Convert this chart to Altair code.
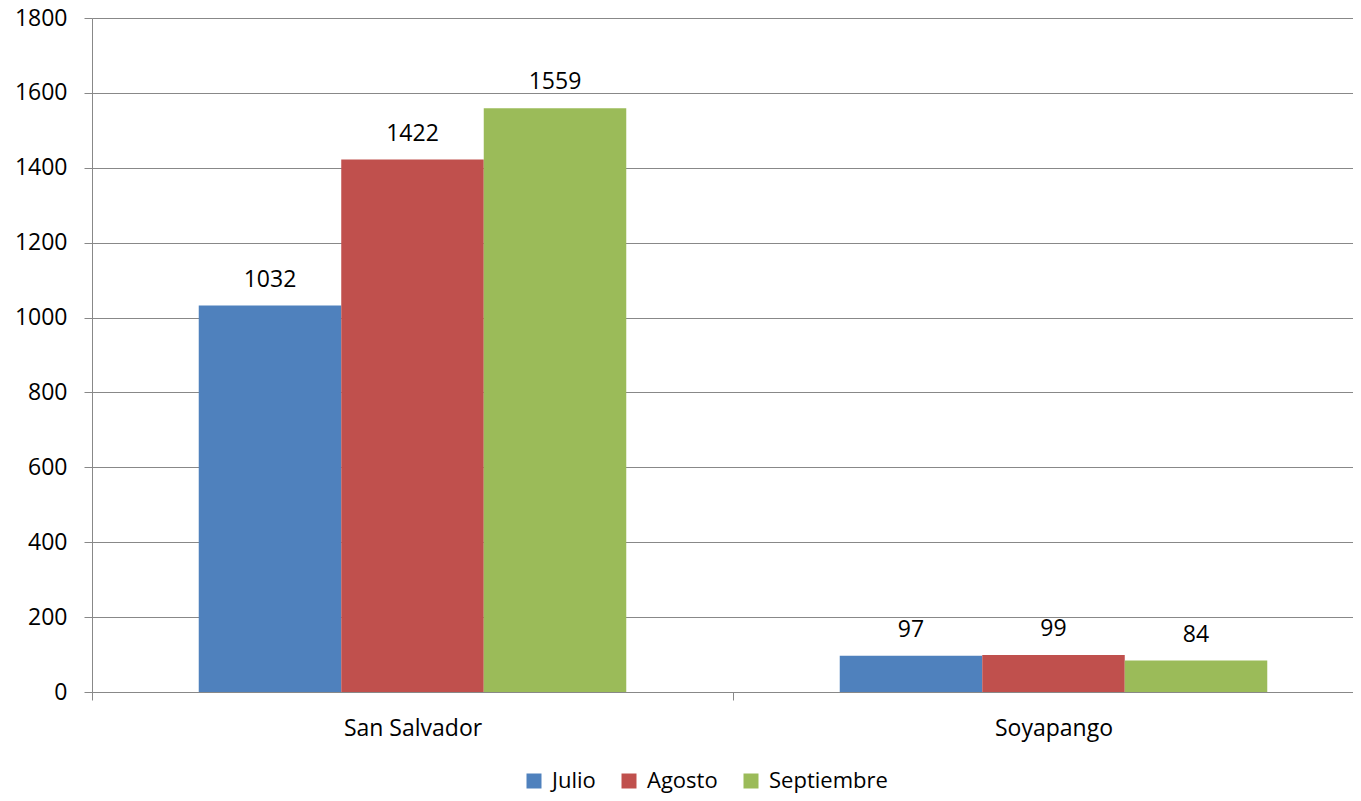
import altair as alt
import pandas as pd

cities = ["San Salvador", "Soyapango"]
months = ["Julio", "Agosto", "Septiembre"]
julio = [1032, 97]
agosto = [1422, 99]
septiembre = [1559, 84]
colors = ["#4F81BD", "#C0504D", "#9BBB59"]
y_ticks = [0, 200, 400, 600, 800, 1000, 1200, 1400, 1600, 1800]

rows = []
for i, c in enumerate(cities):
    for m, vals in zip(months, [julio, agosto, septiembre]):
        rows.append({"ciudad": c, "mes": m, "valor": vals[i]})
df = pd.DataFrame(rows)

FONT = "Open Sans"
FS = 23
GRAY = "#888888"

x = alt.X(
    "ciudad:N", sort=cities, title=None,
    scale=alt.Scale(range=[0, 1282], paddingInner=0, paddingOuter=0),
    axis=alt.Axis(labelAngle=0, tickBand="extent", tickSize=8, tickColor=GRAY,
                  domainColor=GRAY, labelFontSize=FS, labelFont=FONT,
                  labelColor="black", labelBaseline="alphabetic",
                  labelPadding=35, grid=False),
)
xo = alt.XOffset("mes:N", sort=months,
                 scale=alt.Scale(paddingInner=0, paddingOuter=0.749))
y = alt.Y(
    "valor:Q", title=None,
    scale=alt.Scale(domain=[0, 1800], nice=False),
    axis=alt.Axis(values=y_ticks, format="d", tickSize=8, tickColor=GRAY,
                  domainColor=GRAY, gridColor=GRAY, grid=True,
                  labelFontSize=FS, labelFont=FONT, labelColor="black",
                  labelPadding=17),
)
color = alt.Color(
    "mes:N", sort=months,
    scale=alt.Scale(domain=months, range=colors),
    legend=alt.Legend(orient="none", legendX=431, legendY=752, direction="horizontal",
                      title=None, symbolType="square", symbolSize=225,
                      symbolStrokeWidth=0, labelFontSize=22, labelFont=FONT,
                      labelColor="black", columnPadding=22, labelOffset=7),
)

base = alt.Chart(df)
bars = base.mark_bar().encode(x=x, xOffset=xo, y=y, color=color)
labels = base.mark_text(baseline="alphabetic", dy=-19, fontSize=FS, font=FONT,
                        color="black").encode(
    x=x, xOffset=xo, y=y, text=alt.Text("valor:Q"))

chart = alt.layer(bars, labels).properties(
    width=1261, height=674,
    autosize=alt.AutoSizeParams(type="none"),
    padding={"left": 84, "top": 10, "right": 0, "bottom": 101},
).configure_view(stroke=None).configure(background="white")

chart.save("out.html", embed_options={"renderer": "svg", "actions": False})
